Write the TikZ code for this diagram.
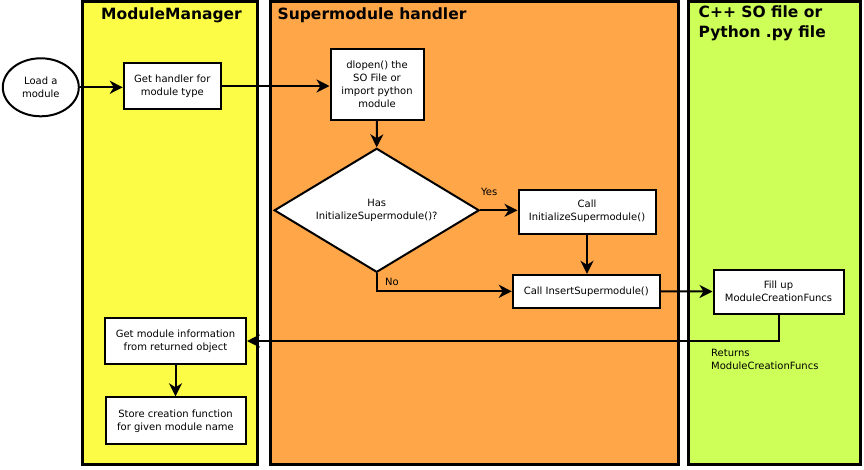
\documentclass[tikz,border=0pt]{standalone}
\usepackage{fontspec}
\setmainfont{DejaVu Sans}
\usetikzlibrary{arrows.meta,shapes.geometric}
\definecolor{managerYellow}{HTML}{FCFC46}
\definecolor{handlerOrange}{HTML}{FEA648}
\definecolor{fileGreen}{HTML}{CEFE58}
\newcommand{\swimLane}[3]{%%
  %% One lane of the chart, from x = #1 to x = #2.
  \draw[laneStyle,fill=#3] (#1,1.5) rectangle (#2,464.5);
}

\begin{document}
\begin{tikzpicture}[%%
  x=1pt,y=-1pt,%%
  laneStyle/.style={draw=black,line width=3pt},%%
  titleStyle/.style={inner sep=0pt,align=left,font=\fontsize{15.5}{20}\selectfont\bfseries},%%
  boxStyle/.style={draw=black,line width=2pt,fill=white,align=center,inner sep=2pt,font=\fontsize{10}{13}\selectfont},%%
  startStyle/.style={boxStyle,ellipse},%%
  decisionStyle/.style={boxStyle,diamond,inner sep=0pt,aspect=1.65},%%
  labelStyle/.style={inner sep=1pt,align=left,font=\fontsize{10}{13}\selectfont},%%
  arrowStyle/.style={-{Stealth[length=13pt,width=13pt,inset=4pt]},line width=2pt}%%
]
\useasboundingbox (0,0) rectangle (864,469);
%%
%%
%% The three lanes and their titles.
\swimLane{82.5}{257}{managerYellow}
\swimLane{270}{678}{handlerOrange}
\swimLane{688}{860.5}{fileGreen}
\node[titleStyle,anchor=base west] (managerTitle) at (101,19) {ModuleManager};
\node[titleStyle,anchor=base west] (handlerTitle) at (277.5,19) {Supermodule handler};
\node[titleStyle,anchor=north west] (fileTitle) at (698.5,6) {C++ SO file or\\Python .py file};
%%
%% The steps of the chart.
\node[startStyle,minimum width=76,minimum height=58] (load) at (40.8,87.3) {Load a\\module};
\node[boxStyle,minimum width=97,minimum height=46] (handler) at (172.3,86) {Get handler for\\module type};
\node[boxStyle,minimum width=93,minimum height=71] (dlopen) at (377,84.3) {dlopen() the\\SO File or\\import python\\module};
\node[decisionStyle,minimum width=205,minimum height=124] (decision) at (376.7,210.3) {Has\\InitializeSupermodule()?};
\node[boxStyle,minimum width=137,minimum height=44] (init) at (587,211.5) {Call\\InitializeSupermodule()};
\node[boxStyle,minimum width=147,minimum height=33] (insert) at (586.3,291.3) {Call InsertSupermodule()};
\node[boxStyle,minimum width=130,minimum height=44] (fill) at (778.5,291.5) {Fill up\\ModuleCreationFuncs};
\node[boxStyle,minimum width=141,minimum height=46] (info) at (175.5,341) {Get module information\\from returned object};
\node[boxStyle,minimum width=140,minimum height=47] (store) at (175.5,420.8) {Store creation function\\for given module name};
\node[labelStyle,anchor=north west] (returnsLabel) at (710,348) {Returns\\ModuleCreationFuncs};
%%
%% The connectors.
\draw[arrowStyle] (load.east) -- (load.east -| handler.west);
\draw[arrowStyle] (handler.east) -- (handler.east -| dlopen.west);
\draw[arrowStyle] (dlopen.south) -- (decision.north);
\draw[arrowStyle] (decision.east) -- node[labelStyle,pos=0.24,yshift=18pt] {Yes} (decision.east -| init.west);
\draw[arrowStyle] (decision.south) |- node[labelStyle,pos=0.5,xshift=15.3pt,yshift=9.3pt] {No} (insert.west);
\draw[arrowStyle] (init.south) -- (init.south |- insert.north);
\draw[arrowStyle] (insert.east) -- (fill.west);
\draw[arrowStyle] (fill.south) |- (info.east);
\draw[arrowStyle] (info.south) -- (store.north);
\end{tikzpicture}
\end{document}
